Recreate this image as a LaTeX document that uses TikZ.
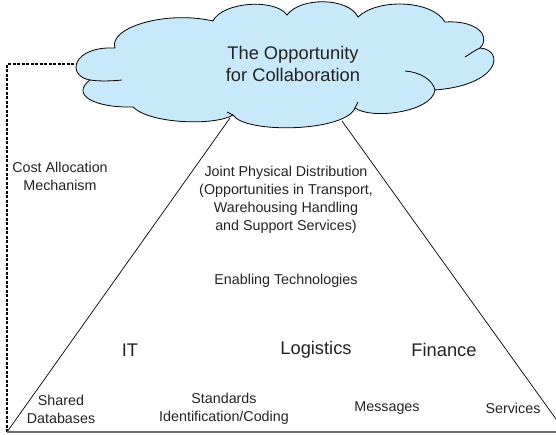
\documentclass[tikz,border=0pt]{standalone}
\usepackage{fontspec}
\setmainfont{Liberation Sans}
\definecolor{cloudblue}{RGB}{200,233,249}
\definecolor{txtgray}{RGB}{35,35,35}
\definecolor{basegray}{RGB}{110,110,110}
\begin{document}
\begin{tikzpicture}[x=1pt,y=-1pt,
  lbl/.style={inner sep=0pt, align=center, text=txtgray, font=\fontsize{14.3}{18}\selectfont},
  biglbl/.style={inner sep=0pt, align=center, text=txtgray, font=\fontsize{18.3}{22}\selectfont},
  thin/.style={line width=0.7pt, black},
  costline/.style={line width=1.3pt, dash pattern=on 3pt off 1.5pt, black}]
\useasboundingbox (0,0) rectangle (556,434);
\clip (0,0) rectangle (556,434);

% cloud
\path[draw=black, fill=cloudblue, line width=0.8pt]
 (115,48) .. controls (108,28) and (165,10) .. (213,21)
 .. controls (222,2) and (275,-2) .. (287,15)
 .. controls (300,-3) and (348,-3) .. (358,17)
 .. controls (378,-2) and (432,0) .. (445,22)
 .. controls (475,20) and (492,35) .. (480,48)
 .. controls (505,50) and (500,85) .. (435,90)
 .. controls (432,112) and (372,120) .. (355,108)
 .. controls (345,132) and (245,134) .. (233,115)
 .. controls (215,126) and (150,124) .. (133,107)
 .. controls (95,108) and (70,95) .. (90,80)
 .. controls (66,76) and (72,46) .. (115,48) -- cycle;
\draw[line width=0.8pt] (90,80) .. controls (100,81.5) and (112,81) .. (122,80);
\draw[line width=0.8pt] (435,90) .. controls (433,80) and (420,72) .. (405,71);
\draw[line width=0.8pt] (480,48) .. controls (475,50) and (470,54) .. (465,57);
\draw[line width=0.8pt] (355,108) .. controls (356,106) and (357,104) .. (358,102);
\draw[line width=0.8pt] (233,115) .. controls (231,114) and (229,113) .. (227,112);

\node[biglbl] (title) at (293,64) {The Opportunity\\for Collaboration};

% connection points
\coordinate (cloudL) at (77,64);
\coordinate (cloudBL) at (230,118);
\coordinate (cloudBR) at (342,121);
\coordinate (corner) at (7,64);
\coordinate (baseL) at (7,432);
\coordinate (baseR) at (556,432);
\coordinate (farR) at (566,433);

% lines
\draw[costline] (baseL) -- (corner) -- (cloudL);
\draw[thin] (baseL) -- (cloudBL);
\draw[thin] (cloudBR) -- (farR);
\draw[line width=1.6pt, basegray] (baseL) -- (baseR);

% texts
\node[lbl] (cost) at (60,176) {Cost Allocation\\Mechanism};
\node[lbl] (joint) at (286,200) {Joint Physical Distribution\\(Opportunities in Transport,\\Warehousing Handling\\and Support Services)};
\node[lbl] (enabling) at (286,281) {Enabling Technologies};
\node[biglbl] (it) at (130,350) {IT};
\node[biglbl] (logistics) at (316,350) {Logistics};
\node[biglbl] (finance) at (444,350) {Finance};
\node[lbl] (shared) at (61,409) {Shared\\Databases};
\node[lbl] (standards) at (224,409) {Standards\\Identification/Coding};
\node[lbl] (messages) at (387,408) {Messages};
\node[lbl] (services) at (513,408) {Services};
\end{tikzpicture}
\end{document}
